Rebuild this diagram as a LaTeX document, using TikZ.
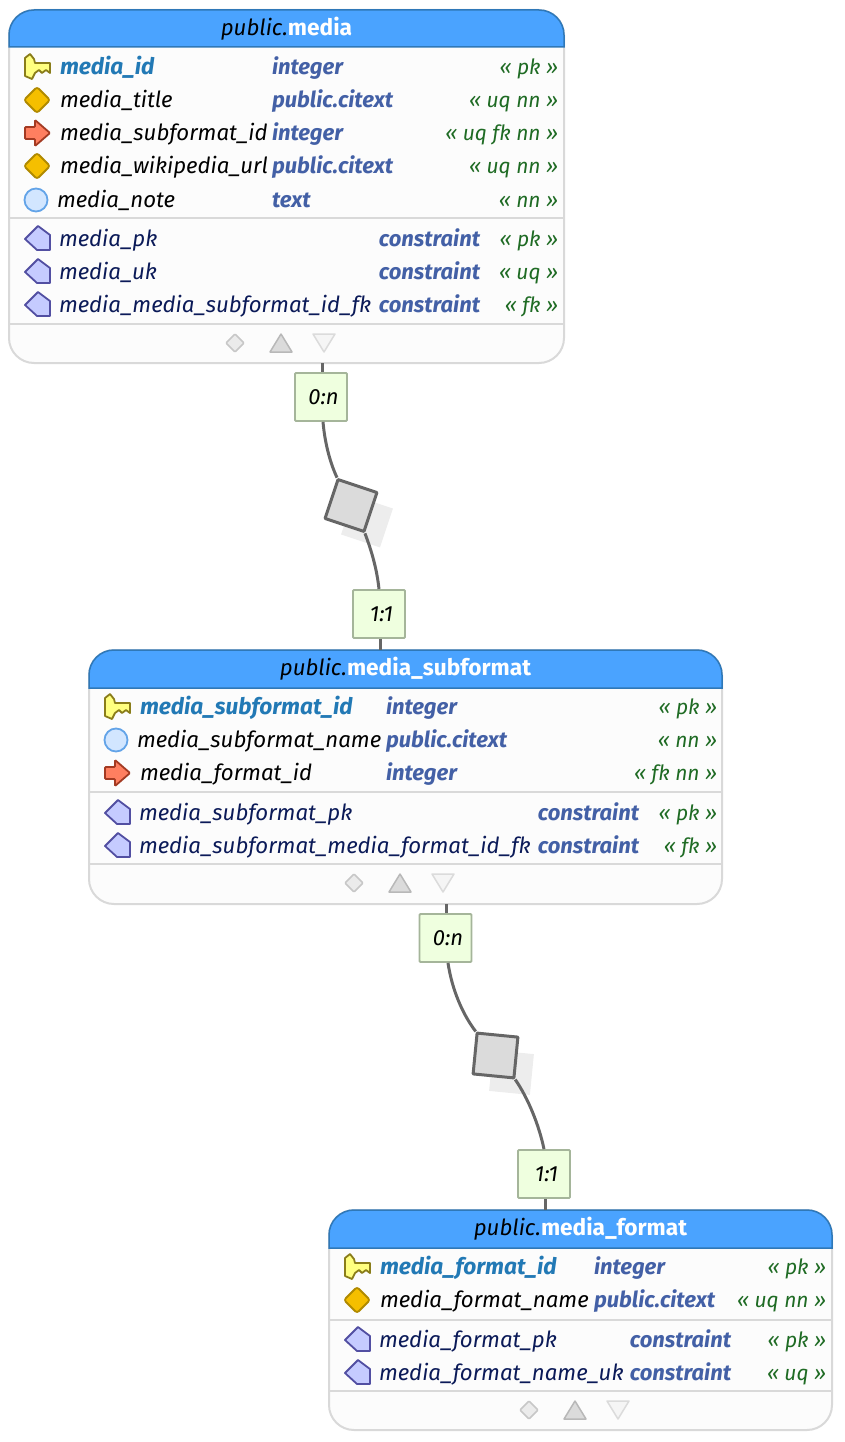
\documentclass[tikz,border=0pt]{standalone}
\usepackage{fontspec}
\setmainfont{Fira Sans}
\usepackage{xcolor}
\definecolor{hdrblue}{HTML}{4AA3FF}
\definecolor{hdrline}{HTML}{2F78B8}
\definecolor{bodybg}{HTML}{FCFCFC}
\definecolor{bodyline}{HTML}{D9D9D9}
\definecolor{pkblue}{HTML}{2279B5}
\definecolor{typeblue}{HTML}{4360A6}
\definecolor{conblue}{HTML}{0B1A58}
\definecolor{taggreen}{HTML}{1F6B24}
\definecolor{cardfill}{HTML}{EFFFDF}
\definecolor{cardline}{HTML}{A5B59A}
\definecolor{relgray}{HTML}{666666}
\definecolor{keyfill}{HTML}{FFFF80}
\definecolor{keyline}{HTML}{8A7D1A}
\definecolor{uqfill}{HTML}{F5BF00}
\definecolor{uqline}{HTML}{B08A00}
\definecolor{fkfill}{HTML}{FF7F60}
\definecolor{fkline}{HTML}{A33A22}
\definecolor{colfill}{HTML}{D2E6FF}
\definecolor{colline}{HTML}{63A4E8}
\definecolor{confill}{HTML}{C5CBFF}
\definecolor{conline}{HTML}{524FA2}
\tikzset{
	txt/.style={inner sep=0pt,outer sep=0pt,font=\fontsize{22.2}{26}\selectfont\itshape},
	plainname/.style={txt,anchor=base west,yshift=-7.7pt,text=black},
	pkname/.style={txt,anchor=base west,yshift=-7.7pt,text=pkblue,font=\fontsize{22.7}{26}\selectfont\bfseries\itshape},
	conname/.style={txt,anchor=base west,xshift=-1pt,yshift=-7.3pt,text=conblue},
	typename/.style={txt,yshift=-7.7pt,text=typeblue,font=\fontsize{22}{26}\selectfont\bfseries\itshape},
	tagname/.style={txt,anchor=base east,yshift=-7.7pt,text=taggreen,font=\fontsize{21}{25}\selectfont\itshape},
	tablebody/.style={draw=bodyline,fill=bodybg,line width=2pt,rounded corners=25pt,inner sep=0pt,outer sep=0pt},
	tablehead/.style={draw=hdrline,fill=hdrblue,line width=1.5pt},
	sepline/.style={draw=bodyline,line width=2pt},
	card/.style={draw=cardline,fill=cardfill,line width=1.8pt,rounded corners=1pt,minimum width=52pt,minimum height=48pt,inner sep=0pt,font=\fontsize{22}{25}\selectfont\itshape},
	relline/.style={draw=relgray,line width=3pt},
	relbox/.style={draw=relgray,fill=black!14,line width=3pt,minimum size=41pt,inner sep=0pt,line join=round},
	relshadow/.style={fill=black!7,minimum size=41pt,inner sep=0pt},
	keyicon/.pic={\draw[draw=keyline,fill=keyfill,line width=1.8pt,line join=round]
		(-12,-9)--(-7,-13)--(-3,-8)--(-2,-4)--(13,-4)--(13,6)--(9,3)--(5,6)--(2,3)--(-2,6)--(-5,12)--(-12,9)--cycle;},
	uqicon/.pic={\draw[draw=uqline,fill=uqfill,line width=1.8pt,rounded corners=2.5pt]
		(-13,0)--(0,-13)--(13,0)--(0,13)--cycle;},
	fkicon/.pic={\draw[draw=fkline,fill=fkfill,line width=1.8pt,rounded corners=1pt]
		(-12,-6)--(-2,-6)--(-2,-13)--(13,0)--(-2,13)--(-2,6)--(-12,6)--cycle;},
	colicon/.pic={\draw[draw=colline,fill=colfill,line width=1.8pt] (-1,0) circle (11.5);},
	conicon/.pic={\draw[draw=conline,fill=confill,line width=1.8pt,line join=round]
		(-12,0)--(1,-13)--(13,-4)--(13,11)--(0,11)--cycle;},
	toolicons/.pic={
		\draw[draw=black!22,fill=black!8,line width=1.5pt,rounded corners=1pt] (-9,0)--(0,-9)--(9,0)--(0,9)--cycle;
		\draw[draw=black!28,fill=black!14,line width=1.5pt,line join=round] (35,9)--(57,9)--(46,-9)--cycle;
		\draw[draw=black!14,fill=black!4,line width=1.5pt,line join=round] (78,-9)--(100,-9)--(89,9)--cycle;},
}
% table frame: name, left, top, right, bottom, head bottom, title
\newcommand{\dbtable}[7]{
	\pgfmathsetmacro{\tw}{#4-#2}
	\pgfmathsetmacro{\th}{#5-#3}
	\node[tablebody,minimum width=\tw pt,minimum height=\th pt] (#1) at ({(#2+#4)/2},{(#3+#5)/2}) {};
	\draw[tablehead] (#2,#6) [rounded corners=25pt] -- (#2,#3) -- (#4,#3) [sharp corners] -- (#4,#6) -- cycle;
	\node[txt,text=black] (#1-title) at ({(#2+#4)/2},{(#3+#6)/2}) {public.\textcolor{white}{\fontsize{22.7}{26}\selectfont\bfseries\upshape #7}};
}
% column row: id, y, icon, name style, name, type, tag
\newcommand{\dbcol}[7]{
	\pic at (\iconx,#2) {#3};
	\node[#4] (#1-name) at (\namex,#2) {#5};
	\node[typename,anchor=base west] (#1-type) at (\typex,#2) {#6};
	\node[tagname] (#1-tag) at (\tagx,#2) {#7};
}
% constraint row: id, y, name, tag
\newcommand{\dbcon}[4]{
	\pic at (\iconx,#2) {conicon};
	\node[conname] (#1-name) at (\namex,#2) {#3};
	\node[typename,anchor=base east] (#1-type) at (\conx,#2) {constraint};
	\node[tagname] (#1-tag) at (\tagx,#2) {#4};
}
\begin{document}
\begin{tikzpicture}[x=1pt,y=-1pt]
	\useasboundingbox (0,0) rectangle (845,1442);

	% media
	\dbtable{media}{9}{10}{564}{363}{47}{media}
	\def\iconx{37}\def\namex{60}\def\typex{272}\def\conx{480}\def\tagx{558}
	\dbcol{ma}{67}{keyicon}{pkname}{media\_id}{integer}{« pk »}
	\dbcol{mb}{100}{uqicon}{plainname}{media\_title}{public.citext}{« uq nn »}
	\dbcol{mc}{133}{fkicon}{plainname}{media\_subformat\_id}{integer}{« uq fk nn »}
	\dbcol{md}{166}{uqicon}{plainname}{media\_wikipedia\_url}{public.citext}{« uq nn »}
	\dbcol{me}{200}{colicon}{plainname,xshift=-3pt}{media\_note}{text}{« nn »}
	\draw[sepline] (media.west |- 0,218) -- (media.east |- 0,218);
	\dbcon{mf}{239}{media\_pk}{« pk »}
	\dbcon{mg}{272}{media\_uk}{« uq »}
	\dbcon{mh}{305}{media\_media\_subformat\_id\_fk}{« fk »}
	\draw[sepline] (media.west |- 0,324) -- (media.east |- 0,324);
	\pic at (235,343) {toolicons};

	% media_subformat
	\dbtable{subformat}{89}{650}{722}{904}{688}{media\_subformat}
	\def\iconx{117}\def\namex{140}\def\typex{386}\def\conx{639}\def\tagx{717}
	\dbcol{sa}{707}{keyicon}{pkname}{media\_subformat\_id}{integer}{« pk »}
	\dbcol{sb}{740}{colicon}{plainname,xshift=-3pt}{media\_subformat\_name}{public.citext}{« nn »}
	\dbcol{sc}{773}{fkicon}{plainname}{media\_format\_id}{integer}{« fk nn »}
	\draw[sepline] (subformat.west |- 0,792) -- (subformat.east |- 0,792);
	\dbcon{sd}{813}{media\_subformat\_pk}{« pk »}
	\dbcon{se}{846}{media\_subformat\_media\_format\_id\_fk}{« fk »}
	\draw[sepline] (subformat.west |- 0,864) -- (subformat.east |- 0,864);
	\pic at (354,883) {toolicons};

	% media_format
	\dbtable{format}{329}{1210}{832}{1430}{1248}{media\_format}
	\def\iconx{357}\def\namex{380}\def\typex{594}\def\conx{731}\def\tagx{826}
	\dbcol{fa}{1267}{keyicon}{pkname}{media\_format\_id}{integer}{« pk »}
	\dbcol{fb}{1300}{uqicon}{plainname}{media\_format\_name}{public.citext}{« uq nn »}
	\draw[sepline] (format.west |- 0,1320) -- (format.east |- 0,1320);
	\dbcon{fc}{1340}{media\_format\_pk}{« pk »}
	\dbcon{fd}{1373}{media\_format\_name\_uk}{« uq »}
	\draw[sepline] (format.west |- 0,1391) -- (format.east |- 0,1391);
	\pic at (529,1410) {toolicons};

	% relations
	\coordinate (mediaout) at (322,363);
	\coordinate (subin) at (380,650);
	\coordinate (subout) at (446,904);
	\coordinate (formatin) at (545,1210);
	\node[card] (cardA) at (321,397) {\raisebox{-4pt}{\hspace{5pt}0:n}};
	\node[card] (cardB) at (379,614) {\raisebox{-4pt}{\hspace{5pt}1:1}};
	\node[card] (cardC) at (445.5,938) {\raisebox{-4pt}{\hspace{5pt}0:n}};
	\node[card] (cardD) at (544,1174) {\raisebox{-4pt}{\hspace{5pt}1:1}};
	\node[relshadow,rotate=-18.4] (shadowA) at (367,521.5) {};
	\node[relshadow,rotate=-5.6] (shadowB) at (511.5,1072.5) {};
	\node[relbox,rotate=-18.4] (boxA) at (351,505.5) {};
	\node[relbox,rotate=-5.6] (boxB) at (495.5,1055.5) {};
	\draw[relline] (mediaout) -- (cardA.north -| mediaout);
	\draw[relline] ([xshift=2pt]cardA.south) .. controls (325,445) and (331,465) .. (boxA.north west);
	\draw[relline] (boxA.south east) .. controls (372,552) and (377,570) .. (cardB.north);
	\draw[relline] (cardB.south -| subin) -- (subin);
	\draw[relline] (subout) -- (cardC.north -| subout);
	\draw[relline] ([xshift=2.5pt]cardC.south) .. controls (452,990) and (463,1015) .. (boxB.north west);
	\draw[relline] (boxB.south east) .. controls (528,1098) and (539,1125) .. (cardD.north);
	\draw[relline] (cardD.south -| formatin) -- (formatin);
\end{tikzpicture}
\end{document}
